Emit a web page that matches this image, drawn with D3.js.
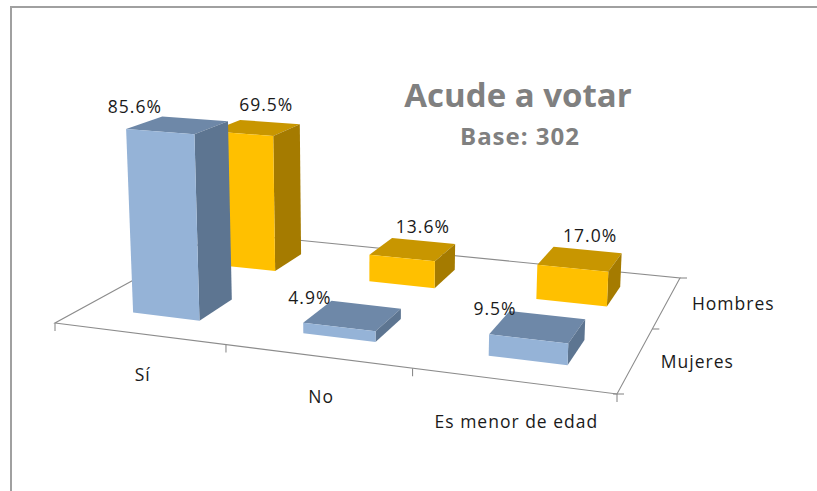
<!DOCTYPE html>
<html><head><meta charset="utf-8">
<script src="https://cdn.jsdelivr.net/npm/d3@7"></script>
<style>
body{margin:0;background:#fff;}
svg{display:block;}
text{font-family:"Open Sans",sans-serif;}
</style>
</head><body>
<svg id="chart" width="817" height="491"></svg>
<script>
// ---- data ----
const categories = ["Sí", "No", "Es menor de edad"];
const seriesNames = ["Mujeres", "Hombres"];
const mujeres = [85.6, 4.9, 9.5];
const hombres = [69.5, 13.6, 17.0];
const titleText = "Acude a votar";
const subtitleText = "Base: 302";

const seriesValues = {"Mujeres": mujeres, "Hombres": hombres};
const palette = {
  "Mujeres": {front:"#95B3D7", side:"#5D7591", top:"#6E88A8"},
  "Hombres": {front:"#FFC000", side:"#A57B00", top:"#C89600"}
};
const labelOffset = {"Mujeres":[-43,-18], "Hombres":[10,-23]};

const svg = d3.select("#chart");

// ---- perspective projection of the floor (unit square) ----
function squareToQuad(p0,p1,p2,p3){
  const dx1=p1[0]-p2[0], dx2=p3[0]-p2[0], dx3=p0[0]-p1[0]+p2[0]-p3[0];
  const dy1=p1[1]-p2[1], dy2=p3[1]-p2[1], dy3=p0[1]-p1[1]+p2[1]-p3[1];
  const den=dx1*dy2-dx2*dy1;
  const g=(dx3*dy2-dx2*dy3)/den, h=(dx1*dy3-dx3*dy1)/den;
  return {a:p1[0]-p0[0]+g*p1[0], b:p3[0]-p0[0]+h*p3[0], c:p0[0],
          d:p1[1]-p0[1]+g*p1[1], e:p3[1]-p0[1]+h*p3[1], f:p0[1], g:g, h:h};
}
const H = squareToQuad([55,323],[617,394],[680,278],[220.5,232.5]);
const K = 224;                 // vertical pixels per unit height
const vpV = [361, 6300];       // vanishing point of verticals
const beta = -K/vpV[1], alpha = vpV[0]*beta;
function P(s,t,h){
  const w = H.g*s + H.h*t + 1 + beta*h;
  return [(H.a*s + H.b*t + H.c + alpha*h)/w, (H.d*s + H.e*t + H.f - K*h)/w];
}

// ---- scales ----
const xCat = d3.scaleBand().domain(categories).range([0,1]);
const xBar = d3.scaleBand().domain(categories).range([0,1]).paddingInner(0.6).paddingOuter(0.3);
const zCat = d3.scaleBand().domain(seriesNames).range([0,1]);
const zBar = d3.scaleBand().domain(seriesNames).range([0,1]).paddingInner(0.6).paddingOuter(0.3);
const yScale = d3.scaleLinear().domain([0,100]).range([0,1]);

const line = d3.line();
const axisColor = "#8c8c8c";

// border
svg.append("path").attr("d","M11,491V7H817").attr("fill","none")
  .attr("stroke","#a0a0a0").attr("stroke-width",2);

// floor outline
const g0 = svg.append("g").attr("fill","none").attr("stroke",axisColor).attr("stroke-width",1.1);
g0.append("path").attr("d", line([P(0,0,0),P(1,0,0),P(1,1,0),P(0,1,0)])+"Z");

// category ticks (front edge)
const catEdges = categories.map(c=>xCat(c)).concat([1]);
catEdges.forEach(s=>{
  const p=P(s,0,0);
  g0.append("path").attr("d", line([p,[p[0],p[1]+8]]));
});
// depth ticks (right edge)
const depthEdges = seriesNames.map(n=>zCat(n)).concat([1]);
depthEdges.forEach(t=>{
  const p=P(1,t,0);
  g0.append("path").attr("d", line([[p[0]-(t===0?4:0),p[1]],[p[0]+7,p[1]]]));
});

// bars: back series first, left to right
const gb = svg.append("g");
["Hombres","Mujeres"].forEach(sn=>{
  const vals = seriesValues[sn], col = palette[sn];
  categories.forEach((c,i)=>{
    const s0=xBar(c), s1=s0+xBar.bandwidth();
    const t0=zBar(sn), t1=t0+zBar.bandwidth();
    const h=yScale(vals[i]);
    const top=[P(s0,t0,h),P(s1,t0,h),P(s1,t1,h),P(s0,t1,h)];
    const side=[P(s1,t0,0),P(s1,t1,0),P(s1,t1,h),P(s1,t0,h)];
    const front=[P(s0,t0,0),P(s1,t0,0),P(s1,t0,h),P(s0,t0,h)];
    gb.append("path").attr("d",line(top)+"Z").attr("fill",col.top);
    gb.append("path").attr("d",line(side)+"Z").attr("fill",col.side);
    gb.append("path").attr("d",line(front)+"Z").attr("fill",col.front);
  });
});

// value labels
const fmt = d3.format(".1f");
seriesNames.forEach(sn=>{
  const vals = seriesValues[sn];
  categories.forEach((c,i)=>{
    const sc = xBar(c)+xBar.bandwidth()/2, tc = zBar(sn)+zBar.bandwidth()/2;
    const p = P(sc,tc,yScale(vals[i]));
    svg.append("text").attr("x",p[0]+labelOffset[sn][0]).attr("y",p[1]+labelOffset[sn][1])
      .attr("dy","0.36em").attr("text-anchor","middle")
      .attr("font-size",17.5).attr("letter-spacing",1).attr("fill","#1a1a1a")
      .text(fmt(vals[i])+"%");
  });
});

// category labels
categories.forEach(c=>{
  const p=P(xCat(c)+xCat.bandwidth()/2,0,0);
  svg.append("text").attr("x",p[0]+4).attr("y",p[1]+41).attr("dy","0.36em")
    .attr("text-anchor","middle").attr("font-size",17.5).attr("letter-spacing",1)
    .attr("fill","#1a1a1a").text(c);
});
// series (depth) labels
seriesNames.forEach(n=>{
  const p=P(1,zCat(n)+zCat.bandwidth()/2,0);
  svg.append("text").attr("x",p[0]+25).attr("y",p[1]+2).attr("dy","0.36em")
    .attr("text-anchor","start").attr("font-size",17.5).attr("letter-spacing",1)
    .attr("fill","#1a1a1a").text(n);
});

// title
svg.append("text").attr("x",518).attr("y",107).attr("text-anchor","middle")
  .attr("font-size",33).attr("font-weight","bold").attr("fill","#808080").text(titleText);
svg.append("text").attr("x",520).attr("y",145).attr("text-anchor","middle")
  .attr("font-size",24).attr("font-weight","bold").attr("letter-spacing",1).attr("fill","#808080").text(subtitleText);
</script>
</body></html>
